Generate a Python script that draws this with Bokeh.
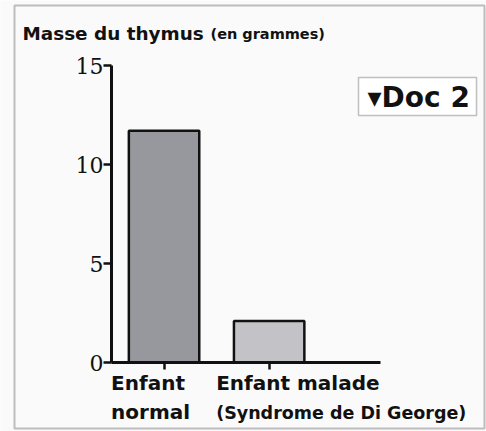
from bokeh.plotting import figure
from bokeh.models import (Range1d, FixedTicker, Label, LabelSet, ColumnDataSource,
                          BoxAnnotation, LinearAxis)
from bokeh.core.properties import value
from bokeh.embed import file_html
from bokeh.resources import INLINE

categories = ["Enfant normal", "Enfant malade"]
label_line1 = ["Enfant", "Enfant malade"]
label_line2 = ["normal", "(Syndrome de Di George)"]
line2_sizes = ["20px", "17.5px"]
masses = [11.7, 2.1]
bar_colors = ["#96989d", "#c3c2c7"]
y_ticks = [0, 5, 10, 15]
y_max = 15

W, H = 486, 431
BG = "#fafafa"
FONT = "DejaVu Sans"
INK = "#111111"

# layout of the plotting area inside the canvas (pixels)
ORIGIN_X, ORIGIN_Y = 111, 362     # canvas position of the axes origin
PX_X, PX_Y = 105.1, 19.8          # pixels per category slot / per gram
AXIS_X_END = 2.56                 # length of the x axis in category slots

p = figure(width=W, height=H, output_backend="svg", toolbar_location=None,
           x_axis_type=None, y_axis_type=None,
           x_range=Range1d(-ORIGIN_X / PX_X, (W - ORIGIN_X) / PX_X),
           y_range=Range1d(-(H - ORIGIN_Y) / PX_Y, ORIGIN_Y / PX_Y),
           min_border=0)
p.background_fill_color = BG
p.border_fill_color = BG
p.outline_line_color = None

xs = [i + 0.5 for i in range(len(categories))]
src = ColumnDataSource(dict(x=xs, top=masses, color=bar_colors, cat=categories,
                            line1=label_line1, line2=label_line2, size2=line2_sizes))

p.vbar(x="x", top="top", bottom=0, width=0.67, source=src,
       fill_color="color", line_color=INK, line_width=2.5)

# y axis pinned at x = 0
yax = LinearAxis(fixed_location=0, bounds=(0, y_max), ticker=FixedTicker(ticks=y_ticks))
yax.major_tick_out = 8
yax.major_tick_in = 0
yax.minor_tick_line_color = None
yax.axis_line_width = 3
yax.major_tick_line_width = 2.5
yax.axis_line_color = INK
yax.major_tick_line_color = INK
yax.major_label_text_font = "DejaVu Serif"
yax.major_label_text_font_size = "22px"
yax.major_label_text_color = INK
yax.major_label_standoff = 0
p.add_layout(yax, "left")

# x axis pinned at y = 0
xax = LinearAxis(fixed_location=0, bounds=(0, AXIS_X_END), ticker=FixedTicker(ticks=xs))
xax.major_label_overrides = {x: "" for x in xs}
xax.major_tick_out = 7
xax.major_tick_in = 0
xax.minor_tick_line_color = None
xax.axis_line_width = 3
xax.major_tick_line_width = 2.5
xax.axis_line_color = INK
xax.major_tick_line_color = INK
p.add_layout(xax, "below")

# category labels (two lines, left aligned)
p.add_layout(LabelSet(x="x", y=-1.41, text="line1", source=src, x_offset=-53,
                      text_font=value(FONT), text_font_style="bold", text_font_size="20px",
                      text_color=INK, text_align="left", text_baseline="alphabetic"))
p.add_layout(LabelSet(x="x", y=-2.83, text="line2", source=src, x_offset=-53,
                      text_font=value(FONT), text_font_style="bold", text_font_size="size2",
                      text_color=INK, text_align="left", text_baseline="alphabetic"))

# title
p.add_layout(Label(x=22, y=33, x_units="canvas", y_units="canvas", text="Masse du thymus",
                   text_font=FONT, text_font_style="bold", text_font_size="18.4px",
                   text_color=INK, text_baseline="alphabetic"))
p.add_layout(Label(x=210, y=33, x_units="canvas", y_units="canvas", text="(en grammes)",
                   text_font=FONT, text_font_style="bold", text_font_size="14.5px",
                   text_color=INK, text_baseline="alphabetic"))

# Doc 2 tag
p.add_layout(BoxAnnotation(left=358, right=476, top=77, bottom=115,
                           left_units="canvas", right_units="canvas",
                           top_units="canvas", bottom_units="canvas",
                           fill_color="#ffffff", fill_alpha=1,
                           line_color="#333333", line_width=1.5))
p.add_layout(Label(x=367, y=97, x_units="canvas", y_units="canvas", text="\u25beDoc 2",
                   text_font=FONT, text_font_style="bold", text_font_size="28px",
                   text_color=INK, text_align="left", text_baseline="middle"))

# outer frame of the document
p.add_layout(BoxAnnotation(left=14, right=484, top=5, bottom=428,
                           left_units="canvas", right_units="canvas",
                           top_units="canvas", bottom_units="canvas",
                           fill_alpha=0, line_color="#333333", line_width=2))

open("out.html", "w").write(file_html(p, INLINE))
